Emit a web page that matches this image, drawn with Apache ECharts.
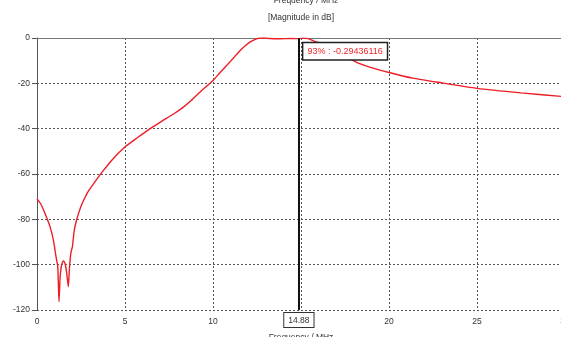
<!DOCTYPE html>
<html>
<head>
<meta charset="utf-8">
<script src="https://cdn.jsdelivr.net/npm/echarts@6/dist/echarts.min.js"></script>
<style>
  html, body { margin: 0; padding: 0; background: #fff; }
  #chart { width: 561px; height: 337px; }
</style>
</head>
<body>
<div id="chart"></div>
<script>
// frequency points (MHz) and magnitude (dB)
var freqMHz = [0, 0.2, 0.45, 0.74, 0.93, 1.08, 1.18, 1.25, 1.31, 1.36, 1.42, 1.5, 1.59, 1.69, 1.78, 1.84, 1.92, 2.01, 2.12, 2.25, 2.4, 2.54, 2.72, 2.92, 3.15, 3.39, 3.7,
  4.3, 5.04, 5.7, 6.37, 7.1, 7.8, 8.3, 8.76, 9.27, 10.03, 10.4, 10.8, 11.2, 11.57, 11.9, 12.14, 12.4, 12.6, 12.9,
  13.2, 13.8, 14.4, 14.88, 15.1, 15.4, 15.8, 16.1, 16.6, 17.2, 17.8, 18.3, 19, 20, 21.35, 23, 25, 27.5, 30];
var magDb = [-71, -73, -77.3, -83.2, -89.1, -96.5, -100.9, -116.3, -106, -102, -99.5, -98.4, -99.4, -103.8, -109.7, -102, -95, -92.1, -84.7, -80.3, -76.5, -73.5, -70.5, -67.6, -65, -62.4, -59.2,
  -53.5, -47.8, -44, -40.3, -36.7, -33.3, -30.6, -27.6, -23.8, -18.5, -15.2, -11.9, -8.5, -5.3, -3, -1.6, -0.6, -0.1, 0,
  -0.2, -0.3, -0.25, -0.29436116, -0.05, -0.3, -1.6, -2.3, -4.5, -7, -9.3, -11.2, -13.1, -15.2, -17.7, -19.8, -22.2, -24.2, -25.9];

var markerFreq = 14.88;
var markerValue = -0.29436116;
var markerText = '93% : -0.29436116';

var points = freqMHz.map(function (f, i) { return [f, magDb[i]]; });

var font = 'Liberation Sans';
var gridLine = { show: true, lineStyle: { color: '#555', type: [2, 2], width: 1 } };

var chart = echarts.init(document.getElementById('chart'));
chart.setOption({
  animation: false,
  textStyle: { fontFamily: font },
  title: {
    text: 'Frequency / MHz',
    left: 301,
    top: -9,
    textAlign: 'center',
    textStyle: { fontSize: 8.5, fontWeight: 'normal', color: '#333', fontFamily: font }
  },
  grid: { left: 37, right: -4, top: 38, bottom: 27, outerBoundsMode: 'none', containLabel: false },
  xAxis: [{
    type: 'value',
    min: 0, max: 30, interval: 5,
    name: 'Frequency / MHz',
    nameLocation: 'middle',
    nameGap: 23,
    nameTextStyle: { fontSize: 8.5, color: '#333' },
    axisLine: { show: true, lineStyle: { color: '#555', width: 1 } },
    axisTick: { show: false },
    axisLabel: { fontSize: 8.5, color: '#333', margin: 7, showMaxLabel: true },
    splitLine: gridLine
  }, {
    type: 'value',
    position: 'top',
    min: 0, max: 30, interval: 5,
    name: '[Magnitude in dB]',
    nameLocation: 'middle',
    nameGap: 16,
    nameTextStyle: { fontSize: 8.5, color: '#333' },
    axisLine: { show: true, lineStyle: { color: '#777', width: 1 } },
    axisTick: { show: false },
    axisLabel: { show: false },
    splitLine: { show: false }
  }],
  yAxis: {
    type: 'value',
    min: -120, max: 0, interval: 20,
    axisLine: { show: true, lineStyle: { color: '#555', width: 1 } },
    axisTick: { show: true, length: 5, lineStyle: { color: '#555' } },
    axisLabel: { fontSize: 8.5, color: '#333', margin: 7 },
    splitLine: gridLine
  },
  series: [{
    type: 'line',
    data: points,
    showSymbol: false,
    smooth: 0.2,
    lineStyle: { color: '#ee1c25', width: 1.4 },
    markLine: {
      silent: true,
      symbol: 'none',
      lineStyle: { color: '#111', type: 'solid', width: 2 },
      label: {
        show: true,
        position: 'start',
        distance: 3,
        formatter: String(markerFreq),
        fontSize: 8.5,
        color: '#333',
        backgroundColor: '#fff',
        borderColor: '#333',
        borderWidth: 1,
        padding: [3, 4, 2, 4]
      },
      data: [{ xAxis: markerFreq }]
    },
    markPoint: {
      silent: true,
      symbol: 'circle',
      symbolSize: 1,
      itemStyle: { color: 'rgba(0,0,0,0)' },
      label: {
        show: true,
        position: [5, 5],
        formatter: markerText,
        fontSize: 9,
        color: '#f0282d',
        backgroundColor: '#fff',
        borderColor: '#222',
        borderWidth: 1.5,
        padding: [4, 4, 3, 4]
      },
      data: [{ coord: [markerFreq, markerValue] }]
    }
  }]
});
</script>
</body>
</html>
